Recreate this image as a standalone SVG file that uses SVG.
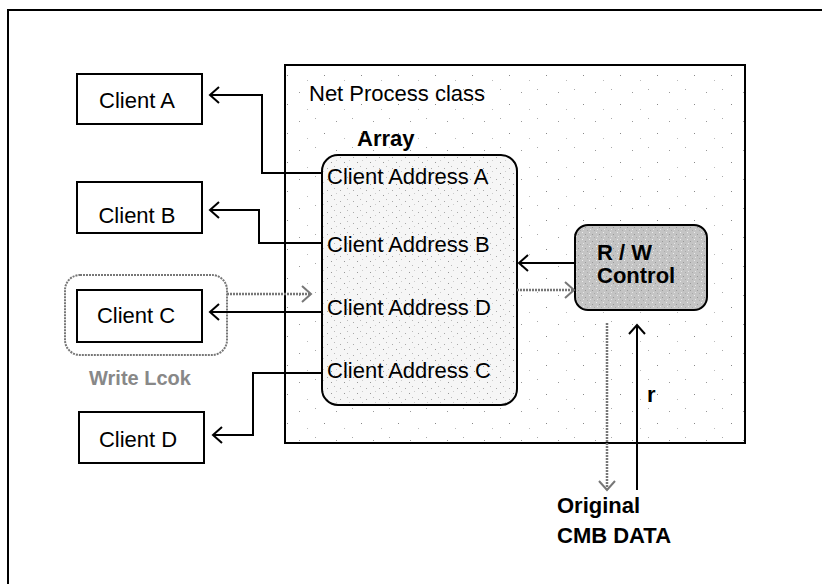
<svg xmlns="http://www.w3.org/2000/svg" width="822" height="584" viewBox="0 0 822 584">
<style>
.t{font-family:"Liberation Sans",Arial,sans-serif;font-size:22px;fill:#000}
.b{font-family:"Liberation Sans",Arial,sans-serif;font-size:22px;font-weight:bold;fill:#000}
.box{fill:#fff;stroke:#000;stroke-width:2}
.ln{fill:none;stroke:#000;stroke-width:2}
.dl{fill:none;stroke:#777;stroke-width:2.5;stroke-dasharray:2 1}
</style>
<defs>
<pattern id="spk" width="37" height="29" patternUnits="userSpaceOnUse">
<rect width="37" height="29" fill="#fff"/>
<rect x="3" y="5" width="1" height="1" fill="#999"/>
<rect x="19" y="2" width="1" height="1" fill="#aaa"/>
<rect x="28" y="17" width="1" height="1" fill="#888"/>
<rect x="11" y="22" width="1" height="1" fill="#bbb"/>
</pattern>
<pattern id="spk2" width="13" height="11" patternUnits="userSpaceOnUse">
<rect width="13" height="11" fill="#f6f6f6"/>
<rect x="2" y="3" width="1" height="1" fill="#aaa"/>
<rect x="9" y="1" width="1" height="1" fill="#bbb"/>
<rect x="6" y="8" width="1" height="1" fill="#999"/>
<rect x="11" y="6" width="1" height="1" fill="#ccc"/>
</pattern>
<pattern id="mot" width="7" height="7" patternUnits="userSpaceOnUse">
<rect width="7" height="7" fill="#c4c4c4"/>
<rect x="1" y="1" width="1" height="1" fill="#eee"/>
<rect x="4" y="3" width="1" height="1" fill="#999"/>
<rect x="2" y="5" width="1" height="1" fill="#e6e6e6"/>
<rect x="6" y="6" width="1" height="1" fill="#aaa"/>
</pattern>
<marker id="ah" markerUnits="userSpaceOnUse" markerWidth="12" markerHeight="18" refX="10" refY="9" orient="auto" overflow="visible">
<path d="M1,1 L10,9 L1,17" fill="none" stroke="#000" stroke-width="2"/>
</marker>
<marker id="ahg" markerUnits="userSpaceOnUse" markerWidth="12" markerHeight="18" refX="10" refY="9" orient="auto" overflow="visible">
<path d="M1,1 L10,9 L1,17" fill="none" stroke="#777" stroke-width="2"/>
</marker>
</defs>
<rect width="822" height="584" fill="#fff"/>
<g id="frame">
<path d="M8,584 L8,10 L822,10" fill="none" stroke="#000" stroke-width="2"/>
</g>
<g id="net-process">
<rect x="285" y="65" width="460" height="378" fill="url(#spk)" stroke="#000" stroke-width="2"/>
<text class="t" x="309" y="101">Net Process class</text>
<text class="b" x="357" y="146">Array</text>
</g>
<g id="array">
<rect x="322" y="155" width="195" height="250" rx="16" fill="url(#spk2)" stroke="#000" stroke-width="2"/>
<text class="t" x="327" y="184">Client Address A</text>
<text class="t" x="327" y="252">Client Address B</text>
<text class="t" x="327" y="315">Client Address D</text>
<text class="t" x="327" y="378">Client Address C</text>
</g>
<g id="rw-control">
<rect x="575" y="225" width="132" height="85" rx="13" fill="url(#mot)" stroke="#000" stroke-width="2"/>
<text class="b" x="597" y="260">R / W</text>
<text class="b" x="597" y="283">Control</text>
</g>
<g id="client-a">
<rect class="box" x="77" y="74" width="125" height="50"/>
<text class="t" x="137" y="108" text-anchor="middle">Client A</text>
</g>
<g id="client-b">
<rect class="box" x="77" y="182" width="125" height="51"/>
<text class="t" x="137" y="223" text-anchor="middle">Client B</text>
</g>
<g id="write-lock">
<rect x="65" y="275" width="162" height="80" rx="15" fill="none" stroke="#777" stroke-width="2" stroke-dasharray="2 1"/>
<text x="140" y="385" text-anchor="middle" font-family="Liberation Sans, Arial, sans-serif" font-size="20" font-weight="bold" fill="#888">Write Lcok</text>
</g>
<g id="client-c">
<rect class="box" x="77" y="290" width="125" height="52"/>
<text class="t" x="136" y="323" text-anchor="middle">Client C</text>
</g>
<g id="client-d">
<rect class="box" x="79" y="412" width="125" height="51"/>
<text class="t" x="138" y="447" text-anchor="middle">Client D</text>
</g>
<g id="cmb-data">
<text class="b" x="557" y="513" font-size="21">Original</text>
<text class="b" x="557" y="543" font-size="21">CMB DATA</text>
</g>
<g id="connectors">
<polyline class="ln" points="322,173 262,173 262,95 210,95" marker-end="url(#ah)"/>
<polyline class="ln" points="322,243 259,243 259,210 210,210" marker-end="url(#ah)"/>
<polyline class="ln" points="322,312 210,312" marker-end="url(#ah)"/>
<polyline class="ln" points="322,373 253,373 253,435 213,435" marker-end="url(#ah)"/>
<polyline class="dl" points="227,294 311,294" marker-end="url(#ahg)"/>
<polyline class="ln" points="575,263 519,263" marker-end="url(#ah)"/>
<polyline class="dl" points="517,290 574,290" marker-end="url(#ahg)"/>
<polyline class="dl" points="607,323 607,490" marker-end="url(#ahg)"/>
<polyline class="ln" points="637,490 637,325" marker-end="url(#ah)"/>
<text class="b" x="647" y="402" font-size="24">r</text>
</g>
</svg>
